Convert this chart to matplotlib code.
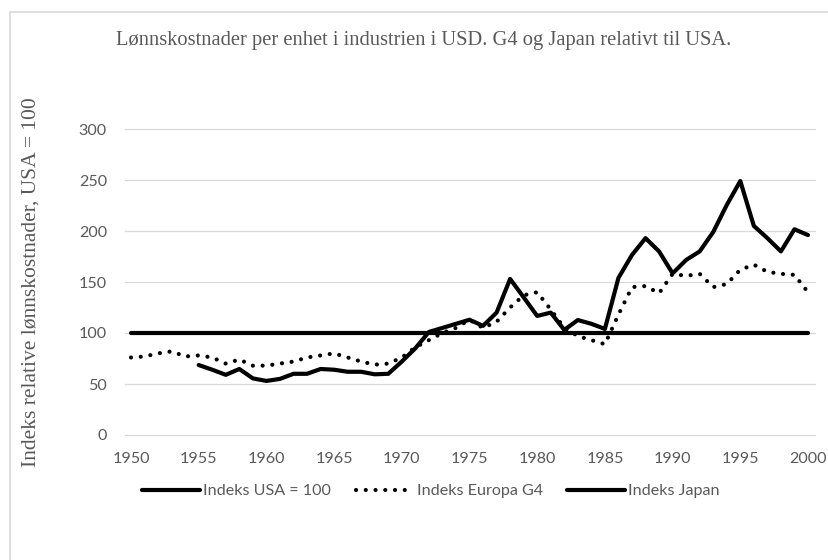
import matplotlib
matplotlib.use("Agg")
import matplotlib.pyplot as plt
from matplotlib.patches import Rectangle

years = list(range(1950, 2001))
usa = [100] * len(years)
europa_g4 = [76, 77, 80, 82, 77, 78, 76, 70, 74, 68,
             68, 70, 72, 76, 78, 80, 76, 72, 69, 70,
             76, 86, 93, 100, 105, 113, 105, 111, 125, 137,
             140, 123, 105, 97, 93, 89, 118, 145, 146, 139,
             158, 156, 158, 145, 148, 162, 167, 160, 158, 157,
             140]
japan_years = list(range(1955, 2001))
japan = [68.6, 64, 59, 64.7, 55.5, 53, 55, 60, 60, 64.7,
         64, 62, 62, 59.5, 60, 72, 85, 101, 105, 109,
         113, 107, 120, 153, 135, 116.7, 120, 103, 112.7, 109,
         104, 154, 176.5, 193, 180, 158.5, 171.6, 180, 199, 225.5,
         249, 205, 193, 180, 201.7, 196]

series_labels = ["Indeks USA = 100", "Indeks Europa G4", "Indeks Japan"]
title = "Lønnskostnader per enhet i industrien i USD. G4 og Japan relativt til USA."
ylabel = "Indeks relative lønnskostnader, USA = 100"
yticks = [0, 50, 100, 150, 200, 250, 300]
xticks = list(range(1950, 2001, 5))

W, H = 829, 560
fig = plt.figure(figsize=(W / 100, H / 100), dpi=100)
fig.patch.set_facecolor("white")

# chart-area border
fig.patches.append(Rectangle((10 / W, 1 - 580 / H), 840 / W, 568 / H,
                             transform=fig.transFigure, fill=False,
                             edgecolor="#d9d9d9", linewidth=1.2))

ax = fig.add_axes([125 / W, 1 - 435 / H, 690 / W, 306 / H])
ax.set_facecolor("white")
for s in ax.spines.values():
    s.set_visible(False)

lw = 3.0
ax.plot(years, usa, color="black", lw=lw, solid_capstyle="round",
        label=series_labels[0], zorder=3)
ax.plot(years, europa_g4, color="black", lw=lw, linestyle=(0, (0.01, 2.33)),
        dash_capstyle="round", label=series_labels[1], zorder=4)
ax.plot(japan_years, japan, color="black", lw=lw, solid_capstyle="round",
        solid_joinstyle="round", label=series_labels[2], zorder=5)

ax.set_xlim(1950 - 6 / 13.54, 2000 + 7 / 13.54)
ax.set_ylim(0, 300)
ax.set_yticks(yticks)
ax.set_xticks(xticks)
tick_font = "Lato"
ax.tick_params(axis="both", length=0, labelcolor="#595959", labelsize=11.6)
ax.tick_params(axis="y", pad=13)
ax.tick_params(axis="x", pad=12)
for lab in ax.get_xticklabels() + ax.get_yticklabels():
    lab.set_fontfamily(tick_font)
ax.yaxis.grid(True, color="#d9d9d9", lw=0.9)
ax.set_axisbelow(True)
for gl in ax.get_ygridlines():
    gl.set_clip_on(False)

# Title sized to match reference width
t = fig.text(424 / W, 1 - 40 / H, title, ha="center", va="center",
             family="Liberation Serif", color="#595959", fontsize=16)
fig.canvas.draw()
w = t.get_window_extent().width
fs = 16 * 618 / w
t.set_fontsize(fs)

fig.text(31 / W, 1 - 282 / H, ylabel, rotation=90, ha="center", va="center",
         family="Liberation Serif", color="#595959", fontsize=fs * 1.05)

leg = fig.legend(loc="center", bbox_to_anchor=(431 / W, 1 - 491 / H), ncol=3,
                 frameon=False, prop={"family": tick_font, "size": 11.6},
                 handlelength=3.6, handletextpad=0.2, columnspacing=1.5,
                 labelcolor="#595959")

fig.savefig("out.png", dpi=100, facecolor="white")
